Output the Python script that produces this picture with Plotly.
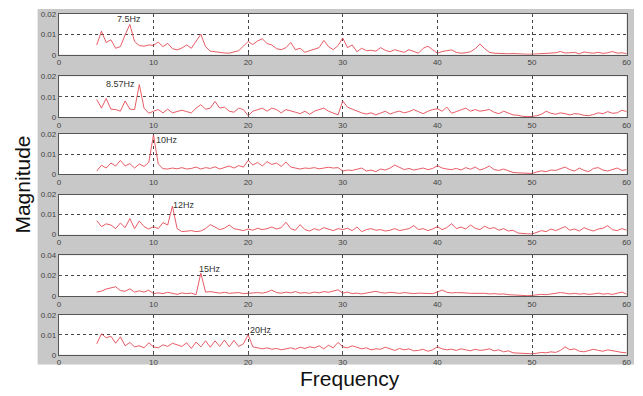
import plotly.graph_objects as go

W, H = 643, 396

# Shared frequency axis (Hz), 4..60 in 0.5 Hz steps
freq = [4 + 0.5 * i for i in range(113)]

mag_7_5 = [0.0048, 0.0115, 0.0060, 0.0073, 0.0032, 0.0040, 0.0097, 0.0148, 0.0065, 0.0045,
           0.0042, 0.0048, 0.0046, 0.0062, 0.0040, 0.0056, 0.0030, 0.0024, 0.0033, 0.0048,
           0.0032, 0.0065, 0.0100, 0.0040, 0.0018, 0.0015, 0.0011, 0.0009, 0.0008, 0.0013,
           0.0020, 0.0042, 0.0065, 0.0050, 0.0068, 0.0078, 0.0055, 0.0048, 0.0030, 0.0025,
           0.0035, 0.0060, 0.0025, 0.0032, 0.0012, 0.0020, 0.0028, 0.0035, 0.0070, 0.0040,
           0.0025, 0.0045, 0.0082, 0.0035, 0.0048, 0.0015, 0.0032, 0.0020, 0.0022, 0.0018,
           0.0035, 0.0022, 0.0015, 0.0025, 0.0018, 0.0012, 0.0025, 0.0015, 0.0008, 0.0032,
           0.0042, 0.0025, 0.0008, 0.0016, 0.0020, 0.0024, 0.0012, 0.0008, 0.0010, 0.0015,
           0.0030, 0.0053, 0.0030, 0.0012, 0.0008, 0.0006, 0.0006, 0.0005, 0.0006, 0.0004,
           0.0004, 0.0003, 0.0003, 0.0004, 0.0008, 0.0006, 0.0008, 0.0010, 0.0016, 0.0009,
           0.0010, 0.0012, 0.0005, 0.0014, 0.0010, 0.0008, 0.0012, 0.0007, 0.0010, 0.0016,
           0.0008, 0.0010, 0.0006]

mag_8_57 = [0.0087, 0.0045, 0.0092, 0.0040, 0.0038, 0.0030, 0.0080, 0.0040, 0.0038, 0.0160,
            0.0045, 0.0020, 0.0030, 0.0038, 0.0022, 0.0040, 0.0022, 0.0030, 0.0035, 0.0028,
            0.0022, 0.0045, 0.0062, 0.0040, 0.0045, 0.0078, 0.0045, 0.0050, 0.0030, 0.0025,
            0.0045, 0.0038, 0.0008, 0.0030, 0.0038, 0.0045, 0.0030, 0.0045, 0.0038, 0.0022,
            0.0038, 0.0030, 0.0025, 0.0018, 0.0030, 0.0015, 0.0030, 0.0038, 0.0045, 0.0030,
            0.0022, 0.0012, 0.0080, 0.0050, 0.0040, 0.0030, 0.0022, 0.0016, 0.0022, 0.0012,
            0.0020, 0.0030, 0.0016, 0.0025, 0.0030, 0.0022, 0.0028, 0.0038, 0.0028, 0.0018,
            0.0030, 0.0038, 0.0042, 0.0030, 0.0050, 0.0020, 0.0028, 0.0035, 0.0045, 0.0030,
            0.0038, 0.0030, 0.0035, 0.0038, 0.0025, 0.0018, 0.0030, 0.0020, 0.0012, 0.0010,
            0.0005, 0.0004, 0.0004, 0.0008, 0.0015, 0.0030, 0.0020, 0.0015, 0.0022, 0.0018,
            0.0012, 0.0018, 0.0016, 0.0010, 0.0008, 0.0014, 0.0022, 0.0018, 0.0028, 0.0020,
            0.0022, 0.0035, 0.0028]

mag_10 = [0.0015, 0.0044, 0.0030, 0.0055, 0.0040, 0.0068, 0.0040, 0.0052, 0.0030, 0.0050,
          0.0038, 0.0058, 0.0195, 0.0050, 0.0027, 0.0025, 0.0030, 0.0026, 0.0032, 0.0025,
          0.0028, 0.0035, 0.0025, 0.0032, 0.0028, 0.0036, 0.0025, 0.0034, 0.0040, 0.0030,
          0.0042, 0.0035, 0.0068, 0.0045, 0.0058, 0.0040, 0.0062, 0.0048, 0.0055, 0.0038,
          0.0060, 0.0035, 0.0030, 0.0025, 0.0030, 0.0028, 0.0032, 0.0026, 0.0030, 0.0034,
          0.0030, 0.0032, 0.0015, 0.0020, 0.0018, 0.0025, 0.0030, 0.0015, 0.0020, 0.0012,
          0.0025, 0.0020, 0.0030, 0.0045, 0.0035, 0.0022, 0.0028, 0.0020, 0.0025, 0.0030,
          0.0022, 0.0028, 0.0042, 0.0030, 0.0025, 0.0022, 0.0028, 0.0020, 0.0032, 0.0024,
          0.0035, 0.0020, 0.0028, 0.0040, 0.0022, 0.0018, 0.0025, 0.0015, 0.0008, 0.0006,
          0.0005, 0.0004, 0.0003, 0.0010, 0.0016, 0.0012, 0.0020, 0.0018, 0.0025, 0.0035,
          0.0022, 0.0015, 0.0030, 0.0018, 0.0012, 0.0028, 0.0032, 0.0020, 0.0015, 0.0022,
          0.0030, 0.0018, 0.0022]

mag_12 = [0.0070, 0.0040, 0.0054, 0.0048, 0.0030, 0.0058, 0.0035, 0.0080, 0.0030, 0.0068,
          0.0040, 0.0028, 0.0040, 0.0030, 0.0060, 0.0048, 0.0142, 0.0030, 0.0015, 0.0018,
          0.0020, 0.0015, 0.0018, 0.0030, 0.0050, 0.0038, 0.0025, 0.0032, 0.0048, 0.0030,
          0.0025, 0.0020, 0.0028, 0.0022, 0.0032, 0.0025, 0.0030, 0.0038, 0.0028, 0.0035,
          0.0062, 0.0030, 0.0022, 0.0050, 0.0025, 0.0018, 0.0030, 0.0022, 0.0035, 0.0028,
          0.0020, 0.0030, 0.0025, 0.0032, 0.0020, 0.0038, 0.0015, 0.0025, 0.0030, 0.0022,
          0.0025, 0.0018, 0.0022, 0.0030, 0.0020, 0.0025, 0.0030, 0.0045, 0.0025, 0.0030,
          0.0020, 0.0028, 0.0040, 0.0025, 0.0035, 0.0055, 0.0030, 0.0038, 0.0028, 0.0048,
          0.0032, 0.0025, 0.0042, 0.0030, 0.0035, 0.0022, 0.0030, 0.0018, 0.0022, 0.0008,
          0.0005, 0.0004, 0.0003, 0.0012, 0.0020, 0.0015, 0.0028, 0.0020, 0.0030, 0.0040,
          0.0022, 0.0028, 0.0018, 0.0035, 0.0025, 0.0018, 0.0028, 0.0032, 0.0045, 0.0025,
          0.0020, 0.0030, 0.0022]

mag_15 = [0.0040, 0.0050, 0.0070, 0.0078, 0.0092, 0.0055, 0.0048, 0.0072, 0.0040, 0.0052,
          0.0040, 0.0058, 0.0025, 0.0032, 0.0025, 0.0038, 0.0030, 0.0018, 0.0032, 0.0025,
          0.0030, 0.0015, 0.0225, 0.0040, 0.0045, 0.0035, 0.0030, 0.0038, 0.0028, 0.0032,
          0.0035, 0.0025, 0.0030, 0.0028, 0.0035, 0.0030, 0.0040, 0.0060, 0.0035, 0.0030,
          0.0040, 0.0032, 0.0045, 0.0030, 0.0035, 0.0028, 0.0040, 0.0032, 0.0045, 0.0038,
          0.0050, 0.0062, 0.0030, 0.0040, 0.0025, 0.0030, 0.0022, 0.0030, 0.0040, 0.0048,
          0.0035, 0.0030, 0.0038, 0.0032, 0.0028, 0.0035, 0.0030, 0.0025, 0.0030, 0.0028,
          0.0032, 0.0025, 0.0040, 0.0060, 0.0038, 0.0032, 0.0035, 0.0030, 0.0032, 0.0028,
          0.0030, 0.0025, 0.0028, 0.0022, 0.0025, 0.0020, 0.0022, 0.0015, 0.0012, 0.0008,
          0.0006, 0.0005, 0.0008, 0.0015, 0.0018, 0.0015, 0.0020, 0.0025, 0.0035, 0.0030,
          0.0022, 0.0028, 0.0020, 0.0025, 0.0018, 0.0022, 0.0030, 0.0020, 0.0025, 0.0018,
          0.0030, 0.0040, 0.0020]

mag_20 = [0.0055, 0.0105, 0.0085, 0.0093, 0.0058, 0.0090, 0.0045, 0.0062, 0.0040, 0.0045,
          0.0035, 0.0060, 0.0040, 0.0035, 0.0050, 0.0042, 0.0058, 0.0050, 0.0042, 0.0060,
          0.0032, 0.0064, 0.0040, 0.0070, 0.0038, 0.0070, 0.0042, 0.0074, 0.0040, 0.0072,
          0.0042, 0.0055, 0.0100, 0.0040, 0.0035, 0.0030, 0.0035, 0.0028, 0.0032, 0.0025,
          0.0030, 0.0035, 0.0028, 0.0038, 0.0032, 0.0040, 0.0035, 0.0045, 0.0030, 0.0048,
          0.0035, 0.0062, 0.0040, 0.0035, 0.0045, 0.0038, 0.0030, 0.0035, 0.0025, 0.0030,
          0.0028, 0.0038, 0.0030, 0.0022, 0.0032, 0.0025, 0.0030, 0.0020, 0.0022, 0.0028,
          0.0018, 0.0025, 0.0040, 0.0030, 0.0025, 0.0028, 0.0022, 0.0030, 0.0025, 0.0020,
          0.0028, 0.0022, 0.0025, 0.0030, 0.0020, 0.0025, 0.0015, 0.0020, 0.0010, 0.0008,
          0.0006, 0.0005, 0.0005, 0.0008, 0.0012, 0.0010, 0.0015, 0.0012, 0.0022, 0.0040,
          0.0025, 0.0030, 0.0018, 0.0015, 0.0020, 0.0028, 0.0022, 0.0018, 0.0025, 0.0020,
          0.0015, 0.0012, 0.0010]

series = [mag_7_5, mag_8_57, mag_10, mag_12, mag_15, mag_20]
y_max = [0.02, 0.02, 0.02, 0.02, 0.04, 0.02]
y_ticks = [["0", "0.01", "0.02"]] * 4 + [["0", "0.02", "0.04"], ["0", "0.01", "0.02"]]
peak_labels = ["7.5Hz", "8.57Hz", "10Hz", "12Hz", "15Hz", "20Hz"]
label_pos = [(7.4, 0.0176), (6.5, 0.0162), (11.4, 0.0168), (13.2, 0.0146), (16.0, 0.0266), (21.4, 0.0126)]
x_ticks = [0, 10, 20, 30, 40, 50, 60]

# panel pixel bounds (top, bottom)
panels_px = [(10, 52), (74, 116), (133, 174), (195, 236), (257, 299), (318, 359)]
x_left, x_right = 57.5, 631.5

fig = go.Figure()
layout = dict(
    margin=dict(l=0, r=0, t=0, b=0), autosize=True,
    paper_bgcolor="white", plot_bgcolor="rgba(0,0,0,0)", showlegend=False,
    font=dict(family="Arial, Liberation Sans, sans-serif", color="#333333"),
)
annotations = []
shapes = [dict(type="rect", xref="paper", yref="paper", layer="below",
               x0=36 / W, x1=639 / W, y0=1 - 369 / H, y1=1 - 5 / H,
               fillcolor="#c8c8c8", line=dict(width=0))]
for i, (vals, ym) in enumerate(zip(series, y_max)):
    n = i + 1
    xa = "x" if n == 1 else f"x{n}"
    ya = "y" if n == 1 else f"y{n}"
    fig.add_trace(go.Scatter(x=freq[:len(vals)], y=vals, mode="lines",
                             line=dict(color="#e44a55", width=0.9), xaxis=xa, yaxis=ya))
    top, bot = panels_px[i]
    shapes.append(dict(type="rect", xref="paper", yref="paper", layer="below",
                       x0=x_left / W, x1=x_right / W, y0=1 - bot / H, y1=1 - top / H,
                       fillcolor="white", line=dict(width=0)))
    layout[f"xaxis{n}"] = dict(
        domain=[x_left / W, x_right / W], anchor=ya, range=[0, 60],
        tickvals=x_ticks, ticktext=[str(t) for t in x_ticks],
        showgrid=True, gridcolor="#444444", griddash="dot", gridwidth=1,
        showline=True, linecolor="#555555", linewidth=1, mirror=True,
        ticks="inside", ticklen=3, tickcolor="#555555",
        tickfont=dict(size=8, color="#444444"), zeroline=False,
    )
    layout[f"yaxis{n}"] = dict(
        domain=[1 - bot / H, 1 - top / H], anchor=xa, range=[0, ym],
        tickvals=[0, ym / 2, ym], ticktext=y_ticks[i],
        showgrid=True, gridcolor="#444444", griddash="dot", gridwidth=1,
        showline=True, linecolor="#555555", linewidth=1, mirror=True,
        ticks="inside", ticklen=3, tickcolor="#555555",
        tickfont=dict(size=8, color="#444444"), zeroline=False,
    )
    lx, ly = label_pos[i]
    annotations.append(dict(x=lx, y=ly, xref=xa, yref=ya, text=peak_labels[i],
                            showarrow=False, font=dict(size=9, color="#333333")))

annotations.append(dict(x=352 / W, y=1 - 383 / H, xref="paper", yref="paper", text="Frequency",
                        xanchor="center", yanchor="middle",
                        showarrow=False, font=dict(size=21, color="#111111")))
annotations.append(dict(x=21 / W, y=1 - 185 / H, xref="paper", yref="paper", text="Magnitude",
                        xanchor="center", yanchor="middle",
                        showarrow=False, textangle=-90, font=dict(size=21, color="#111111")))
layout["annotations"] = annotations
layout["shapes"] = shapes
fig.update_layout(**layout)
post = ("document.documentElement.style.margin='0';document.body.style.margin='0';"
        "document.body.style.overflow='hidden';document.documentElement.style.overflow='hidden';"
        "var gd=document.getElementById('{plot_id}');Plotly.Plots.resize(gd);")
fig.write_html("out.html", config={"displayModeBar": False, "responsive": True},
               default_width="100vw", default_height="100vh", post_script=post)
